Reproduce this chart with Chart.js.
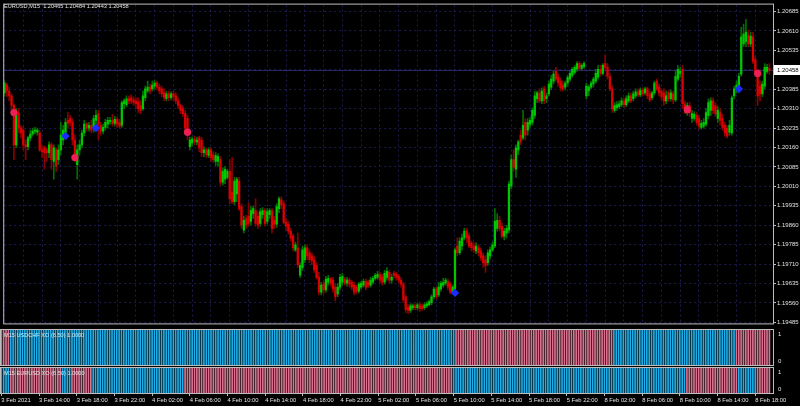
<!DOCTYPE html>
<html>
<head>
<meta charset="utf-8">
<script src="https://cdn.jsdelivr.net/npm/chart.js@4.4.1/dist/chart.umd.min.js"></script>
<style>
  body { margin: 0; background: #000; width: 800px; height: 406px; overflow: hidden; }
  .pane { position: absolute; left: 0; width: 800px; }
</style>
</head>
<body>
<div class="pane" style="top:0;height:328px"><canvas id="main"></canvas></div>
<div class="pane" style="top:328px;height:38px"><canvas id="sub1"></canvas></div>
<div class="pane" style="top:366px;height:40px"><canvas id="sub2"></canvas></div>
<script>
// ---- data (EURUSD M15, 3 Feb 10:00 .. 8 Feb 19:30) ----
const symbolTitle = 'EURUSD,M15';
const sessionDays = ['3 Feb', '4 Feb', '5 Feb', '8 Feb'];
const sessionStartMin = [600, 0, 0, 0];
const sessionBars = [56, 96, 96, 79];

const opens = [
1.20371,1.20401,1.20378,1.20359,1.20322,1.20170,1.20295,1.20235,1.20227,1.20170,
1.20163,1.20197,1.20212,1.20223,1.20219,1.20216,1.20151,1.20159,1.20151,1.20140,
1.20170,1.20106,1.20151,1.20113,1.20151,1.20189,1.20216,1.20265,1.20272,1.20257,
1.20189,1.20094,1.20151,1.20170,1.20216,1.20250,1.20235,1.20246,1.20235,1.20265,
1.20291,1.20246,1.20223,1.20238,1.20250,1.20261,1.20265,1.20253,1.20269,1.20257,
1.20246,1.20329,1.20325,1.20348,1.20352,1.20344,1.20340,1.20337,1.20322,1.20310,
1.20352,1.20378,1.20393,1.20386,1.20397,1.20409,1.20393,1.20386,1.20371,1.20348,
1.20367,1.20352,1.20367,1.20359,1.20340,1.20322,1.20310,1.20291,1.20272,1.20163,
1.20178,1.20193,1.20182,1.20197,1.20189,1.20140,1.20151,1.20129,1.20151,1.20132,
1.20106,1.20106,1.20113,1.20026,1.20038,1.20045,1.20068,1.19988,1.19951,1.19981,
1.20030,1.19932,1.19841,1.19886,1.19894,1.19875,1.19905,1.19917,1.19894,1.19867,
1.19901,1.19917,1.19875,1.19901,1.19917,1.19879,1.19864,1.19924,1.19958,1.19943,
1.19871,1.19864,1.19837,1.19818,1.19765,1.19773,1.19667,1.19697,1.19727,1.19773,
1.19754,1.19742,1.19727,1.19705,1.19659,1.19602,1.19633,1.19610,1.19640,1.19652,
1.19648,1.19621,1.19595,1.19621,1.19640,1.19652,1.19636,1.19648,1.19640,1.19629,
1.19621,1.19606,1.19621,1.19629,1.19644,1.19640,1.19629,1.19640,1.19655,1.19659,
1.19671,1.19659,1.19640,1.19659,1.19678,1.19648,1.19674,1.19671,1.19663,1.19648,
1.19633,1.19584,1.19542,1.19531,1.19542,1.19549,1.19542,1.19553,1.19546,1.19542,
1.19549,1.19553,1.19561,1.19584,1.19614,1.19591,1.19614,1.19629,1.19636,1.19644,
1.19633,1.19602,1.19614,1.19780,1.19754,1.19780,1.19811,1.19837,1.19818,1.19792,
1.19780,1.19761,1.19773,1.19761,1.19742,1.19727,1.19716,1.19742,1.19765,1.19780,
1.19848,1.19879,1.19856,1.19818,1.19830,1.19841,1.20011,1.20113,1.20076,1.20151,
1.20208,1.20197,1.20257,1.20227,1.20250,1.20257,1.20284,1.20348,1.20371,1.20340,
1.20386,1.20348,1.20367,1.20393,1.20416,1.20454,1.20431,1.20416,1.20401,1.20393,
1.20409,1.20424,1.20439,1.20450,1.20462,1.20484,1.20465,1.20473,1.20359,1.20378,
1.20393,1.20405,1.20416,1.20431,1.20462,1.20446,1.20484,1.20469,1.20435,1.20386,
1.20303,1.20314,1.20318,1.20325,1.20340,1.20325,1.20340,1.20359,1.20348,1.20359,
1.20375,1.20363,1.20382,1.20371,1.20386,1.20367,1.20352,1.20371,1.20416,1.20393,
1.20378,1.20371,1.20340,1.20371,1.20348,1.20367,1.20344,1.20424,1.20446,1.20462,
1.20329,1.20295,1.20322,1.20272,1.20272,1.20284,1.20272,1.20238,1.20242,1.20250,
1.20284,1.20303,1.20340,1.20322,1.20272,1.20295,1.20272,1.20246,1.20235,1.20219,
1.20216,1.20359,1.20386,1.20397,1.20443,1.20560,1.20568,1.20594,1.20560,1.20587,
1.20499,1.20454,1.20397,1.20367,1.20397,1.20454,1.20465];

const highs = [
1.20416,1.20409,1.20393,1.20367,1.20329,1.20310,1.20310,1.20246,1.20242,1.20189,
1.20204,1.20227,1.20235,1.20238,1.20235,1.20227,1.20166,1.20166,1.20159,1.20182,
1.20178,1.20170,1.20159,1.20170,1.20257,1.20246,1.20272,1.20295,1.20284,1.20272,
1.20208,1.20170,1.20189,1.20227,1.20265,1.20257,1.20257,1.20265,1.20284,1.20303,
1.20303,1.20257,1.20250,1.20269,1.20276,1.20276,1.20288,1.20280,1.20276,1.20269,
1.20340,1.20348,1.20359,1.20359,1.20363,1.20356,1.20352,1.20352,1.20340,1.20378,
1.20397,1.20416,1.20405,1.20416,1.20420,1.20416,1.20405,1.20397,1.20386,1.20378,
1.20378,1.20375,1.20378,1.20371,1.20352,1.20329,1.20322,1.20303,1.20284,1.20200,
1.20200,1.20204,1.20200,1.20204,1.20200,1.20163,1.20159,1.20159,1.20159,1.20144,
1.20140,1.20136,1.20125,1.20083,1.20087,1.20076,1.20113,1.20121,1.20045,1.20045,
1.20045,1.19943,1.19894,1.19898,1.19947,1.19932,1.19935,1.19962,1.19909,1.19924,
1.19928,1.19924,1.19924,1.19924,1.19924,1.19894,1.19943,1.19970,1.19970,1.19954,
1.19886,1.19875,1.19848,1.19826,1.19795,1.19830,1.19716,1.19780,1.19784,1.19784,
1.19765,1.19754,1.19742,1.19716,1.19678,1.19640,1.19644,1.19663,1.19667,1.19659,
1.19659,1.19633,1.19636,1.19671,1.19674,1.19659,1.19659,1.19655,1.19648,1.19640,
1.19629,1.19640,1.19644,1.19652,1.19652,1.19648,1.19659,1.19663,1.19674,1.19682,
1.19678,1.19671,1.19686,1.19697,1.19686,1.19671,1.19682,1.19678,1.19671,1.19659,
1.19640,1.19591,1.19553,1.19557,1.19557,1.19557,1.19561,1.19561,1.19557,1.19561,
1.19565,1.19572,1.19591,1.19621,1.19621,1.19640,1.19644,1.19655,1.19655,1.19652,
1.19640,1.19629,1.19773,1.19811,1.19811,1.19826,1.19848,1.19848,1.19830,1.19799,
1.19792,1.19792,1.19784,1.19773,1.19754,1.19742,1.19765,1.19777,1.19795,1.19924,
1.19905,1.19894,1.19867,1.19848,1.19860,1.20030,1.20132,1.20151,1.20170,1.20189,
1.20227,1.20303,1.20272,1.20272,1.20276,1.20314,1.20378,1.20378,1.20386,1.20390,
1.20397,1.20371,1.20416,1.20439,1.20454,1.20469,1.20443,1.20428,1.20416,1.20416,
1.20439,1.20454,1.20469,1.20477,1.20492,1.20492,1.20484,1.20492,1.20409,1.20401,
1.20416,1.20431,1.20462,1.20477,1.20477,1.20484,1.20518,1.20484,1.20446,1.20397,
1.20333,1.20337,1.20340,1.20352,1.20352,1.20359,1.20371,1.20371,1.20378,1.20386,
1.20386,1.20390,1.20390,1.20393,1.20393,1.20378,1.20378,1.20416,1.20424,1.20405,
1.20386,1.20386,1.20378,1.20382,1.20382,1.20378,1.20454,1.20477,1.20469,1.20477,
1.20340,1.20333,1.20333,1.20303,1.20299,1.20295,1.20284,1.20265,1.20272,1.20310,
1.20348,1.20352,1.20352,1.20333,1.20318,1.20310,1.20288,1.20257,1.20246,1.20265,
1.20359,1.20397,1.20416,1.20446,1.20624,1.20636,1.20655,1.20613,1.20605,1.20605,
1.20511,1.20462,1.20416,1.20416,1.20484,1.20481,1.20484];

const lows = [
1.20359,1.20356,1.20340,1.20303,1.20113,1.20159,1.20216,1.20197,1.20151,1.20113,
1.20151,1.20185,1.20204,1.20212,1.20208,1.20144,1.20121,1.20076,1.20106,1.20121,
1.20076,1.20038,1.20068,1.20094,1.20132,1.20170,1.20212,1.20235,1.20242,1.20170,
1.20106,1.20038,1.20132,1.20159,1.20204,1.20223,1.20223,1.20216,1.20219,1.20238,
1.20189,1.20208,1.20212,1.20227,1.20235,1.20250,1.20242,1.20242,1.20238,1.20235,
1.20238,1.20310,1.20318,1.20329,1.20329,1.20322,1.20310,1.20295,1.20291,1.20303,
1.20340,1.20371,1.20367,1.20378,1.20386,1.20382,1.20367,1.20356,1.20340,1.20340,
1.20340,1.20344,1.20340,1.20329,1.20310,1.20291,1.20280,1.20227,1.20189,1.20151,
1.20166,1.20170,1.20170,1.20144,1.20125,1.20125,1.20121,1.20121,1.20106,1.20102,
1.20091,1.20087,1.20015,1.20015,1.20019,1.20038,1.19943,1.19943,1.19939,1.19951,
1.19917,1.19848,1.19830,1.19848,1.19856,1.19860,1.19886,1.19856,1.19848,1.19856,
1.19886,1.19856,1.19864,1.19886,1.19830,1.19848,1.19852,1.19909,1.19924,1.19864,
1.19841,1.19826,1.19799,1.19761,1.19758,1.19697,1.19659,1.19686,1.19716,1.19727,
1.19716,1.19708,1.19678,1.19652,1.19591,1.19591,1.19595,1.19602,1.19629,1.19625,
1.19602,1.19568,1.19584,1.19610,1.19629,1.19629,1.19625,1.19621,1.19610,1.19591,
1.19595,1.19599,1.19614,1.19621,1.19610,1.19618,1.19621,1.19633,1.19648,1.19652,
1.19636,1.19629,1.19633,1.19648,1.19636,1.19636,1.19655,1.19648,1.19636,1.19621,
1.19561,1.19523,1.19519,1.19523,1.19534,1.19534,1.19534,1.19527,1.19531,1.19534,
1.19542,1.19549,1.19553,1.19576,1.19576,1.19584,1.19606,1.19621,1.19629,1.19610,
1.19595,1.19599,1.19606,1.19742,1.19746,1.19765,1.19803,1.19792,1.19773,1.19761,
1.19754,1.19750,1.19742,1.19724,1.19697,1.19678,1.19705,1.19731,1.19758,1.19773,
1.19837,1.19837,1.19811,1.19803,1.19811,1.19830,1.20000,1.20068,1.20045,1.20132,
1.20170,1.20189,1.20189,1.20208,1.20238,1.20246,1.20272,1.20333,1.20333,1.20329,
1.20329,1.20333,1.20359,1.20382,1.20405,1.20416,1.20397,1.20378,1.20378,1.20382,
1.20397,1.20416,1.20431,1.20443,1.20454,1.20458,1.20458,1.20465,1.20348,1.20359,
1.20386,1.20393,1.20409,1.20424,1.20435,1.20439,1.20462,1.20424,1.20378,1.20295,
1.20295,1.20303,1.20310,1.20318,1.20314,1.20318,1.20333,1.20333,1.20340,1.20352,
1.20356,1.20356,1.20359,1.20363,1.20348,1.20337,1.20344,1.20363,1.20378,1.20359,
1.20344,1.20322,1.20329,1.20337,1.20340,1.20329,1.20337,1.20416,1.20431,1.20310,
1.20291,1.20284,1.20280,1.20257,1.20265,1.20246,1.20231,1.20231,1.20235,1.20242,
1.20272,1.20284,1.20291,1.20280,1.20257,1.20246,1.20227,1.20204,1.20197,1.20208,
1.20208,1.20348,1.20371,1.20386,1.20435,1.20549,1.20549,1.20549,1.20549,1.20484,
1.20443,1.20322,1.20340,1.20356,1.20386,1.20446,1.20443];

const closes = [
1.20409,1.20378,1.20359,1.20322,1.20170,1.20295,1.20235,1.20216,1.20170,1.20163,
1.20197,1.20212,1.20223,1.20227,1.20227,1.20151,1.20144,1.20140,1.20140,1.20170,
1.20113,1.20159,1.20087,1.20151,1.20208,1.20227,1.20257,1.20253,1.20257,1.20189,
1.20121,1.20151,1.20170,1.20216,1.20250,1.20235,1.20246,1.20227,1.20272,1.20284,
1.20246,1.20223,1.20238,1.20257,1.20265,1.20265,1.20253,1.20269,1.20250,1.20242,
1.20333,1.20340,1.20348,1.20340,1.20340,1.20333,1.20329,1.20310,1.20303,1.20359,
1.20386,1.20393,1.20378,1.20401,1.20409,1.20393,1.20378,1.20367,1.20352,1.20367,
1.20352,1.20367,1.20356,1.20340,1.20322,1.20303,1.20291,1.20235,1.20208,1.20189,
1.20193,1.20182,1.20189,1.20159,1.20140,1.20151,1.20132,1.20151,1.20121,1.20113,
1.20129,1.20125,1.20026,1.20068,1.20076,1.20068,1.19962,1.19951,1.20030,1.20038,
1.19924,1.19860,1.19879,1.19860,1.19867,1.19917,1.19924,1.19867,1.19860,1.19913,
1.19917,1.19867,1.19913,1.19917,1.19848,1.19864,1.19932,1.19962,1.19939,1.19871,
1.19856,1.19837,1.19811,1.19773,1.19784,1.19708,1.19705,1.19765,1.19773,1.19742,
1.19727,1.19724,1.19689,1.19659,1.19602,1.19629,1.19610,1.19652,1.19655,1.19636,
1.19614,1.19584,1.19621,1.19659,1.19663,1.19636,1.19648,1.19633,1.19621,1.19602,
1.19606,1.19633,1.19636,1.19644,1.19621,1.19629,1.19648,1.19655,1.19667,1.19671,
1.19648,1.19640,1.19674,1.19682,1.19648,1.19659,1.19667,1.19659,1.19648,1.19633,
1.19572,1.19534,1.19531,1.19549,1.19549,1.19542,1.19553,1.19538,1.19538,1.19553,
1.19557,1.19565,1.19584,1.19614,1.19584,1.19621,1.19636,1.19640,1.19648,1.19621,
1.19602,1.19621,1.19765,1.19754,1.19799,1.19811,1.19837,1.19811,1.19780,1.19773,
1.19765,1.19780,1.19754,1.19735,1.19716,1.19705,1.19754,1.19765,1.19784,1.19875,
1.19879,1.19848,1.19818,1.19837,1.19848,1.20019,1.20113,1.20083,1.20159,1.20182,
1.20182,1.20246,1.20208,1.20257,1.20265,1.20303,1.20359,1.20371,1.20340,1.20378,
1.20340,1.20359,1.20405,1.20424,1.20443,1.20424,1.20409,1.20390,1.20386,1.20409,
1.20431,1.20446,1.20462,1.20469,1.20484,1.20465,1.20477,1.20484,1.20397,1.20393,
1.20409,1.20424,1.20446,1.20462,1.20446,1.20477,1.20469,1.20435,1.20386,1.20310,
1.20322,1.20325,1.20329,1.20340,1.20325,1.20348,1.20359,1.20340,1.20367,1.20375,
1.20363,1.20382,1.20367,1.20386,1.20359,1.20344,1.20371,1.20409,1.20386,1.20371,
1.20356,1.20340,1.20359,1.20348,1.20371,1.20344,1.20435,1.20462,1.20454,1.20329,
1.20303,1.20322,1.20295,1.20291,1.20288,1.20257,1.20242,1.20253,1.20257,1.20295,
1.20333,1.20340,1.20303,1.20291,1.20303,1.20265,1.20238,1.20216,1.20204,1.20246,
1.20352,1.20386,1.20401,1.20435,1.20587,1.20598,1.20605,1.20560,1.20590,1.20492,
1.20454,1.20359,1.20367,1.20405,1.20469,1.20469,1.20458];

// XO arrows on the price chart
const sellBars = [4, 30, 78, 291, 321];
const sellPrices = [1.20295, 1.20121, 1.20219, 1.20306, 1.20446];
const buyBars = [26, 39, 192, 313];
const buyPrices = [1.20204, 1.20235, 1.19599, 1.20386];

// XO state runs for the two sub windows: [first bar, 1 = blue / 0 = pink]
const usdchfRuns = [[0, 0], [4, 1], [193, 0], [260, 1], [312, 0]];
const eurusdRuns = [[0, 1], [4, 0], [26, 1], [30, 0], [39, 1], [78, 0], [192, 1], [291, 0], [313, 1], [321, 0]];

const priceTicks = [1.19485, 1.19560, 1.19635, 1.19710, 1.19785, 1.19860, 1.19935, 1.20010,
  1.20085, 1.20160, 1.20235, 1.20310, 1.20385, 1.20460, 1.20535, 1.20610, 1.20685];

// ---- look ----
const UP_BODY = '#00c800', UP_WICK = '#006e00';
const DN_BODY = '#dc0000', DN_WICK = '#8a0000';
const GRID = '#1c1c52';
const FRAME = '#bdbdbd';
const TEXT = '#e2e2e2';
const FONT = 'Liberation Sans';
const BLUE = '#1eaee8', PINK = '#d9718f';

const n = opens.length;
const last = n - 1;
const bars = [...Array(n).keys()];

// time label for every bar
const barLabels = [];
sessionDays.forEach((d, k) => {
  for (let j = 0; j < sessionBars[k]; j++) {
    const m = sessionStartMin[k] + j * 15;
    const hh = String(Math.floor(m / 60)).padStart(2, '0');
    const mm = String(m % 60).padStart(2, '0');
    barLabels.push(d + ' ' + hh + ':' + mm);
  }
});
barLabels[0] = '3 Feb 2021';

const gridBars = bars.filter(i => i % 8 === 0);

function stateAt(runs, i) {
  let s = runs[0][1];
  runs.forEach(r => { if (i >= r[0]) s = r[1]; });
  return s;
}

function xAxis(withLabels) {
  return {
    type: 'linear', min: -0.13, max: 327.54, offset: false,
    afterBuildTicks: s => { s.ticks = gridBars.map(v => ({ value: v })); },
    afterFit: s => { s.height = withLabels ? 13 : 0; },
    grid: {
      offset: false, color: GRID, drawOnChartArea: !withLabels,
      drawTicks: withLabels, tickLength: 3,
      tickColor: c => (c.tick && c.tick.value % 16 === 0) ? FRAME : 'rgba(0,0,0,0)'
    },
    border: { display: false, dash: [2, 3] },
    ticks: {
      display: withLabels, autoSkip: false, maxRotation: 0, align: 'start',
      color: TEXT, font: { family: FONT, size: 5.8 }, padding: 1,
      callback: v => v % 16 === 0 ? barLabels[v] : ''
    }
  };
}

const frame = {
  id: 'frame',
  afterDraw(chart) {
    const { ctx, chartArea: a } = chart;
    ctx.save();
    ctx.strokeStyle = FRAME;
    ctx.lineWidth = 1;
    ctx.strokeRect(a.left - 0.5, a.top - 0.5, a.right - a.left + 1, a.bottom - a.top + 1);
    ctx.restore();
  }
};

const mainDecor = {
  id: 'mainDecor',
  beforeDatasetsDraw(chart) {
    const { ctx, chartArea: a, scales } = chart;
    const y = Math.round(scales.y.getPixelForValue(closes[last])) + 0.5;
    ctx.save();
    ctx.strokeStyle = '#262660';
    ctx.beginPath();
    ctx.moveTo(a.left, y);
    ctx.lineTo(a.right, y);
    ctx.stroke();
    ctx.restore();
  },
  afterDraw(chart) {
    const { ctx, chartArea: a, scales } = chart;
    ctx.save();
    ctx.font = '5.6px "' + FONT + '"';
    ctx.textBaseline = 'middle';
    ctx.fillStyle = TEXT;
    const t = symbolTitle + '  ' + [opens[last], highs[last], lows[last], closes[last]].map(v => v.toFixed(5)).join(' ');
    ctx.fillText(t, 4, 6);
    // current price box
    const y = Math.round(scales.y.getPixelForValue(closes[last]));
    ctx.fillStyle = '#ffffff';
    ctx.fillRect(a.right + 1, y - 5, 26, 10);
    ctx.fillStyle = '#000000';
    ctx.font = '6px "' + FONT + '"';
    ctx.fillText(closes[last].toFixed(5), a.right + 4, y + 0.5);
    ctx.restore();
  }
};

function subDecor(label) {
  return {
    id: 'subDecor',
    afterDraw(chart) {
      const { ctx, chartArea: a } = chart;
      ctx.save();
      ctx.font = '5.6px "' + FONT + '"';
      ctx.textBaseline = 'middle';
      ctx.fillStyle = TEXT;
      ctx.fillText(label, 4, a.top + 5);
      ctx.font = '6px "' + FONT + '"';
      ctx.fillText('1', a.right + 5, a.top + 4);
      ctx.fillText('0', a.right + 5, a.bottom - 4);
      ctx.restore();
    }
  };
}

const common = {
  responsive: true,
  maintainAspectRatio: false,
  animation: false,
  devicePixelRatio: 1,
  events: [],
  plugins: { legend: { display: false }, tooltip: { enabled: false } }
};

new Chart(document.getElementById('main'), {
  type: 'bar',
  data: {
    datasets: [
      {
        type: 'line', order: 0, showLine: false,
        data: sellBars.map((x, k) => ({ x: x, y: sellPrices[k] })),
        pointStyle: 'circle', pointRadius: 3.6, pointBorderWidth: 0,
        pointBackgroundColor: '#ee1f55'
      },
      {
        type: 'line', order: 0, showLine: false,
        data: buyBars.map((x, k) => ({ x: x, y: buyPrices[k] })),
        pointStyle: 'rectRot', pointRadius: 4.2, pointBorderWidth: 0,
        pointBackgroundColor: '#1a2cff'
      },
      {
        order: 1, grouped: false, barThickness: 1.6, minBarLength: 1,
        data: bars.map(i => ({ x: i, y: [opens[i], closes[i]] })),
        backgroundColor: c => closes[c.dataIndex] >= opens[c.dataIndex] ? UP_BODY : DN_BODY
      },
      {
        order: 2, grouped: false, barThickness: 1,
        data: bars.map(i => ({ x: i, y: [lows[i], highs[i]] })),
        backgroundColor: c => closes[c.dataIndex] >= opens[c.dataIndex] ? UP_WICK : DN_WICK
      }
    ]
  },
  options: {
    ...common,
    layout: { padding: { top: 2, left: 1, right: 0, bottom: 1 } },
    scales: {
      x: xAxis(false),
      y: {
        position: 'right', min: 1.194812, max: 1.207115,
        afterBuildTicks: s => { s.ticks = priceTicks.map(v => ({ value: v })); },
        afterFit: s => { s.width = 27; },
        grid: { color: GRID, tickLength: 3, tickColor: FRAME },
        border: { display: false, dash: [2, 3] },
        ticks: {
          color: TEXT, font: { family: FONT, size: 6 }, padding: 1,
          callback: v => Math.abs(v - 1.2046) < 1e-7 ? '' : v.toFixed(5)
        }
      }
    }
  },
  plugins: [mainDecor, frame]
});

function subChart(id, runs, label, withLabels) {
  new Chart(document.getElementById(id), {
    type: 'bar',
    data: {
      datasets: [{
        grouped: false, barPercentage: 0.72, categoryPercentage: 1,
        data: bars.map(i => ({ x: i, y: 1 })),
        backgroundColor: c => stateAt(runs, c.dataIndex) === 1 ? BLUE : PINK
      }]
    },
    options: {
      ...common,
      layout: { padding: { top: 2, left: 1, right: 0, bottom: withLabels ? 0 : 1 } },
      scales: {
        x: xAxis(withLabels),
        y: {
          position: 'right', min: 0, max: 1,
          afterFit: s => { s.width = 27; },
          grid: { display: false },
          border: { display: false },
          ticks: { display: false }
        }
      }
    },
    plugins: [subDecor(label), frame]
  });
}

subChart('sub1', usdchfRuns, 'M15 USDCHF XO (6.50) 1.0000', false);
subChart('sub2', eurusdRuns, 'M15 EURUSD XO (6.50) 1.0000', true);
</script>
</body>
</html>
